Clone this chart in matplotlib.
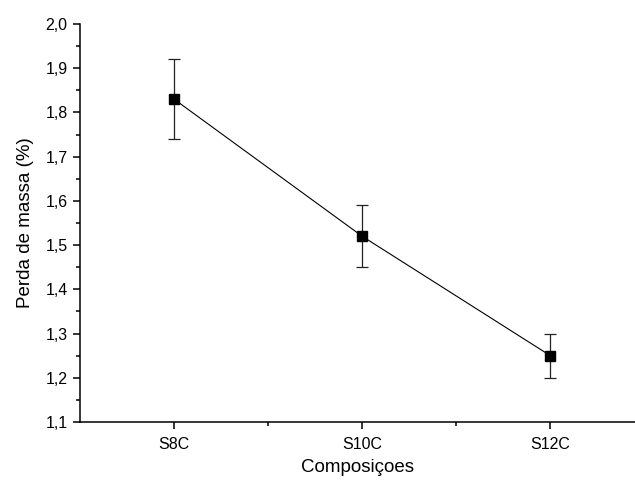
import matplotlib
matplotlib.use("Agg")
import matplotlib.pyplot as plt
from matplotlib.ticker import MultipleLocator, FixedLocator, FuncFormatter

categories = ["S8C", "S10C", "S12C"]
perda = [1.83, 1.52, 1.25]
erro_inf = [0.09, 0.07, 0.05]
erro_sup = [0.09, 0.07, 0.05]

plt.rcParams["font.family"] = ["Liberation Sans", "DejaVu Sans"]

fig = plt.figure(figsize=(6.35, 4.8), dpi=100)
ax = fig.add_axes([0.126, 0.1208, 0.874, 0.8292])

x = list(range(1, len(categories) + 1))
ax.errorbar(x, perda, yerr=[erro_inf, erro_sup], fmt="s-", color="black",
            lw=0.8, ms=6.5, elinewidth=0.9, capsize=4.5, capthick=0.9,
            ecolor="#222222")

ax.set_xlim(0.5, 3.45)
ax.set_ylim(1.1, 2.0)

ax.set_xticks(x)
ax.set_xticklabels(categories)
ax.xaxis.set_minor_locator(FixedLocator([1.5, 2.5]))
ax.yaxis.set_major_locator(MultipleLocator(0.1))
ax.yaxis.set_minor_locator(MultipleLocator(0.05))
ax.yaxis.set_major_formatter(FuncFormatter(lambda v, p: f"{v:.1f}".replace(".", ",")))

for s in ("top", "right"):
    ax.spines[s].set_visible(False)
for s in ("left", "bottom"):
    ax.spines[s].set_linewidth(1.1)

ax.tick_params(axis="both", which="major", direction="out", length=5,
               width=1.1, labelsize=11.5)
ax.tick_params(axis="x", which="major", pad=6)
ax.tick_params(axis="y", which="major", pad=4)
ax.tick_params(axis="both", which="minor", direction="out", length=3, width=1.1)

ax.set_xlabel("Composiçoes", fontsize=13.5, labelpad=5)
ax.set_ylabel("Perda de massa (%)", fontsize=13.5, labelpad=8)

fig.savefig("out.png", dpi=100)
